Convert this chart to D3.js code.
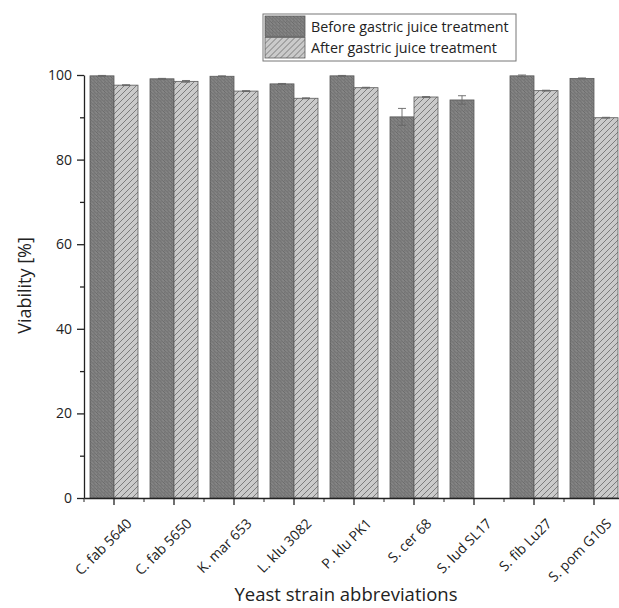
<!DOCTYPE html>
<html>
<head>
<meta charset="utf-8">
<script src="https://cdn.jsdelivr.net/npm/d3@7"></script>
<style>
  body { margin: 0; background: #fff; }
  text { font-family: "Open Sans", "DejaVu Sans", sans-serif; fill: #222; }
</style>
</head>
<body>
<svg width="619" height="608"></svg>
<script>
// strains and viability values
var strains = ["C. fab 5640", "C. fab 5650", "K. mar 653", "L. klu 3082", "P. klu PK1",
               "S. cer 68", "S. lud SL17", "S. fib Lu27", "S. pom G10S"];
var before = [99.8, 99.1, 99.7, 97.9, 99.8, 90.1, 94.1, 99.8, 99.2];
var beforeErr = [0.1, 0.1, 0.1, 0.1, 0.1, 2.0, 1.0, 0.2, 0.1];
var after = [97.6, 98.5, 96.2, 94.5, 97.0, 94.8, null, 96.3, 89.9];
var afterErr = [0.1, 0.2, 0.1, 0.1, 0.1, 0.1, null, 0.1, 0.1];
var series = ["Before gastric juice treatment", "After gastric juice treatment"];
var yTicks = [0, 20, 40, 60, 80, 100];

var svg = d3.select("svg"),
    width = +svg.attr("width"),
    height = +svg.attr("height");

var margin = {top: 75, right: -5, bottom: 110, left: 84};

var x = d3.scaleBand()
    .domain(strains)
    .range([margin.left, width - margin.right])
    .paddingInner(0.2)
    .paddingOuter(0.1);

var xSub = d3.scaleBand()
    .domain(series)
    .range([0, x.bandwidth()]);

var y = d3.scaleLinear()
    .domain([0, 100])
    .range([height - margin.bottom, margin.top]);

// hatch patterns
var defs = svg.append("defs");

var pDark = defs.append("pattern")
    .attr("id", "hatchDark")
    .attr("patternUnits", "userSpaceOnUse")
    .attr("width", 3.5).attr("height", 3.5);
pDark.append("rect").attr("width", 3.5).attr("height", 3.5).attr("fill", "#858585");
pDark.append("path")
    .attr("d", "M-1,1 L1,3 M0,0 L3.5,3.5 M2.5,-1 L4.5,1")
    .attr("stroke", "#666").attr("stroke-width", 0.8);

var pLight = defs.append("pattern")
    .attr("id", "hatchLight")
    .attr("patternUnits", "userSpaceOnUse")
    .attr("width", 6).attr("height", 6);
pLight.append("rect").attr("width", 6).attr("height", 6).attr("fill", "#cacaca");
pLight.append("path")
    .attr("d", "M-1,1 L1,-1 M0,6 L6,0 M5,7 L7,5")
    .attr("stroke", "#737373").attr("stroke-width", 0.9);

var fills = ["url(#hatchDark)", "url(#hatchLight)"];

var rows = strains.map(function(s, i) {
    return [
        {strain: s, key: series[0], value: before[i], err: beforeErr[i], k: 0},
        {strain: s, key: series[1], value: after[i], err: afterErr[i], k: 1}
    ];
});

var groups = svg.append("g")
    .selectAll("g")
    .data(rows)
    .enter().append("g")
    .attr("transform", function(d) { return "translate(" + x(d[0].strain) + ",0)"; });

var bars = groups.selectAll("g.bar")
    .data(function(d) { return d.filter(function(e) { return e.value != null; }); })
    .enter().append("g")
    .attr("class", "bar");

bars.append("rect")
    .attr("x", function(d) { return xSub(d.key); })
    .attr("width", xSub.bandwidth())
    .attr("y", function(d) { return y(d.value); })
    .attr("height", function(d) { return y(0) - y(d.value); })
    .attr("fill", function(d) { return fills[d.k]; })
    .attr("stroke", "#5a5a5a")
    .attr("stroke-width", 0.8);

// error bars
bars.append("path")
    .attr("d", function(d) {
        var cx = xSub(d.key) + xSub.bandwidth() / 2;
        var t = y(d.value + d.err), b = y(d.value - d.err);
        return "M" + (cx - 4) + "," + t + "H" + (cx + 4) +
               "M" + cx + "," + t + "V" + b +
               "M" + (cx - 4) + "," + b + "H" + (cx + 4);
    })
    .attr("stroke", "#666")
    .attr("stroke-width", 0.9)
    .attr("fill", "none");

// axes
var yAxis = svg.append("g")
    .attr("transform", "translate(" + margin.left + ",0)")
    .call(d3.axisLeft(y).tickValues(yTicks).tickSize(7).tickSizeOuter(0));
svg.append("g")
    .attr("transform", "translate(" + margin.left + ",0)")
    .call(d3.axisLeft(y).tickValues([10, 30, 50, 70, 90]).tickSize(4).tickFormat("").tickSizeOuter(0))
    .select(".domain").remove();
yAxis.selectAll("text").attr("font-size", 14).attr("dx", "-2");

var xAxis = svg.append("g")
    .attr("transform", "translate(0," + y(0) + ")")
    .call(d3.axisBottom(x).tickSize(7).tickSizeOuter(0));
// minor ticks between categories
svg.append("g")
    .attr("transform", "translate(0," + y(0) + ")")
    .selectAll("line")
    .data(strains)
    .enter().append("line")
    .attr("x1", function(d) { return x(d) + x.bandwidth() / 2 - x.step() / 2; })
    .attr("x2", function(d) { return x(d) + x.bandwidth() / 2 - x.step() / 2; })
    .attr("y1", 0).attr("y2", 4)
    .attr("stroke", "#222");

xAxis.selectAll("text")
    .attr("font-size", 14)
    .attr("text-anchor", "end")
    .attr("dx", "0")
    .attr("dy", "0.35em")
    .attr("transform", "translate(8,16) rotate(-45)");

svg.selectAll(".domain, .tick line").attr("stroke", "#222").attr("stroke-width", 1.3);

// axis titles
svg.append("text")
    .attr("transform", "translate(31," + (y(50) - 1) + ") rotate(-90)")
    .attr("text-anchor", "middle")
    .attr("font-size", 18)
    .text("Viability [%]");

svg.append("text")
    .attr("x", 346)
    .attr("y", 601)
    .attr("text-anchor", "middle")
    .attr("font-size", 18.5)
    .text("Yeast strain abbreviations");

// legend
var legend = svg.append("g").attr("transform", "translate(263,14)");
legend.append("rect")
    .attr("width", 253).attr("height", 47)
    .attr("fill", "#fff").attr("stroke", "#777").attr("stroke-width", 1);
var li = legend.selectAll("g.item")
    .data(series)
    .enter().append("g")
    .attr("class", "item")
    .attr("transform", function(d, i) { return "translate(2," + (2 + i * 21.5) + ")"; });
li.append("rect")
    .attr("width", 40).attr("height", 20.5)
    .attr("fill", function(d, i) { return fills[i]; })
    .attr("stroke", "#5a5a5a").attr("stroke-width", 0.8);
li.append("text")
    .attr("x", 46).attr("y", 15.5)
    .attr("font-size", 14.3)
    .text(function(d) { return d; });
</script>
</body>
</html>
